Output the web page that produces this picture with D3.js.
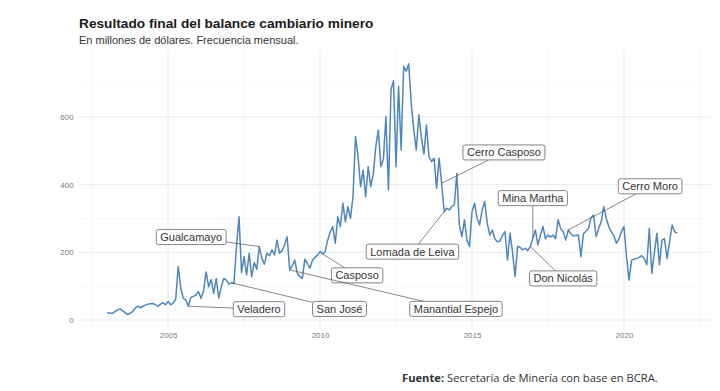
<!DOCTYPE html>
<html><head><meta charset="utf-8">
<script src="https://cdn.jsdelivr.net/npm/d3@7"></script>
<style>
body{margin:0;background:#fff;}
svg{display:block;}
</style></head>
<body>
<svg id="chart" width="720" height="391"></svg>
<script>
// ---- data ----
const startYear = 2003;          // first month: January 2003
const values = [
  // 2003
  22, 20, 20, 25, 30, 33, 28, 22, 16, 20, 25, 35,
  // 2004
  41, 36, 40, 44, 47, 48, 49, 45, 41, 47, 51, 45,
  // 2005
  55, 45, 50, 62, 158, 95, 64, 59, 41, 67, 70, 74,
  // 2006
  84, 64, 87, 142, 98, 120, 79, 123, 65, 98, 123, 118,
  // 2007
  106, 110, 108, 217, 305, 140, 187, 133, 197, 128, 170, 150,
  // 2008
  217, 182, 165, 197, 190, 207, 192, 236, 197, 205, 222, 246,
  // 2009
  148, 160, 177, 138, 128, 123, 180, 167, 153, 177, 185, 192,
  // 2010
  202, 195, 202, 236, 260, 276, 227, 305, 276, 345, 290, 335,
  // 2011
  300, 364, 542, 483, 394, 443, 364, 453, 394, 430, 512, 561,
  // 2012
  453, 475, 601, 384, 680, 707, 453, 690, 502, 749, 734, 757,
  // 2013
  640, 561, 502, 606, 540, 490, 576, 483, 468, 478, 389, 478,
  // 2014
  404, 320, 330, 325, 335, 340, 433, 280, 246, 296, 236, 217,
  // 2015
  320, 345, 300, 281, 325, 350, 286, 251, 266, 240, 231, 233,
  // 2016
  250, 261, 177, 256, 200, 128, 217, 215, 207, 212, 205, 217,
  // 2017
  241, 266, 222, 250, 276, 240, 251, 245, 251, 240, 296, 270,
  // 2018
  261, 236, 266, 255, 248, 250, 251, 187, 255, 262, 270, 303,
  // 2019
  310, 246, 270, 290, 335, 300, 276, 260, 250, 227, 240, 261,
  // 2020
  276, 187, 118, 177, 180, 182, 185, 190, 182, 163, 271, 138,
  // 2021
  200, 256, 163, 236, 240, 182, 230, 281, 261, 256
];
const xTicks = [2005, 2010, 2015, 2020];
const yTicks = [0, 200, 400, 600];

// mine annotations: name, month index of the pointed value, label centre (year, value)
const mineNames  = ["Gualcamayo", "Veladero", "San José", "Casposo", "Manantial Espejo",
                    "Lomada de Leiva", "Cerro Casposo", "Mina Martha", "Don Nicolás", "Cerro Moro"];
const mineIndex  = [60, 32, 49, 85, 72, 133, 132, 168, 167, 182];
const labelYear  = [2005.76, 2007.99, 2010.64, 2011.22, 2014.47, 2013.04, 2016.05, 2017.0, 2018.0, 2020.86];
const labelValue = [245, 32, 33, 132, 33, 202, 495, 360, 123, 395];

const title = "Resultado final del balance cambiario minero";
const subtitle = "En millones de dólares. Frecuencia mensual.";

// ---- chart ----
const svg = d3.select("#chart");
svg.append("rect").attr("width", 720).attr("height", 391).attr("fill", "#fff");

const pLeft = 78.6, pRight = 710.6, pTop = 50.5, pBottom = 328.5;
const series = values.map((v, i) => ({ t: startYear + i / 12, v }));
const x = d3.scaleLinear().domain([2002.055, 2022.85]).range([pLeft, pRight]);
const y = d3.scaleLinear().domain([-25, 796]).range([pBottom, pTop]);

const g = svg.append("g");
// minor grid
const xMinor = [2002.5, 2007.5, 2012.5, 2017.5, 2022.5];
const yMinor = [100, 300, 500, 700];
g.selectAll(".xm").data(xMinor).join("line")
  .attr("x1", d => x(d)).attr("x2", d => x(d)).attr("y1", pTop).attr("y2", pBottom)
  .attr("stroke", "#f3f3f3").attr("stroke-width", 0.6);
g.selectAll(".ym").data(yMinor).join("line")
  .attr("y1", d => y(d)).attr("y2", d => y(d)).attr("x1", pLeft).attr("x2", pRight)
  .attr("stroke", "#f3f3f3").attr("stroke-width", 0.6);
// major grid
g.selectAll(".xM").data(xTicks).join("line")
  .attr("x1", d => x(d)).attr("x2", d => x(d)).attr("y1", pTop).attr("y2", pBottom)
  .attr("stroke", "#e8e8e8").attr("stroke-width", 0.9);
g.selectAll(".yM").data(yTicks).join("line")
  .attr("y1", d => y(d)).attr("y2", d => y(d)).attr("x1", pLeft).attr("x2", pRight)
  .attr("stroke", "#e8e8e8").attr("stroke-width", 0.9);

// axes (text only)
const xAxis = svg.append("g").attr("transform", `translate(0,${pBottom})`)
  .call(d3.axisBottom(x).tickValues(xTicks).tickFormat(d3.format("d")).tickSize(0).tickPadding(4));
const yAxis = svg.append("g").attr("transform", `translate(${pLeft},0)`)
  .call(d3.axisLeft(y).tickValues(yTicks).tickSize(0).tickPadding(5));
[xAxis, yAxis].forEach(a => {
  a.select(".domain").remove();
  a.selectAll("text").attr("fill", "#7a7a7a").style("font-family", "Liberation Sans, Arial, sans-serif").style("font-size", "8px");
});

// line
svg.append("path").datum(series)
  .attr("fill", "none").attr("stroke", "#4f86bd").attr("stroke-width", 1.5)
  .attr("stroke-linejoin", "round")
  .attr("d", d3.line().x(d => x(d.t)).y(d => y(d.v)));

// labels
const lg = svg.append("g").style("font-family", "Liberation Sans, Arial, sans-serif").style("font-size", "11px");
mineNames.forEach((name, i) => {
  const p = series[mineIndex[i]];
  const px = x(p.t), py = y(p.v);
  const cx = x(labelYear[i]), cy = y(labelValue[i]);
  const grp = lg.append("g");
  const seg = grp.append("line").attr("stroke", "#555").attr("stroke-width", 0.7);
  const rect = grp.append("rect");
  const txt = grp.append("text").text(name).attr("x", cx).attr("y", cy).attr("text-anchor", "middle")
    .attr("dominant-baseline", "central").attr("fill", "#333");
  const w = txt.node().getComputedTextLength() + 8, h = 15;
  rect.attr("x", cx - w / 2).attr("y", cy - h / 2).attr("width", w).attr("height", h)
    .attr("rx", 2).attr("fill", "#fff").attr("stroke", "#666").attr("stroke-width", 0.8);
  const dx = px - cx, dy = py - cy;
  const s = Math.min(Math.abs((w / 2) / (dx || 1e-9)), Math.abs((h / 2) / (dy || 1e-9)));
  const ex = cx + dx * Math.min(s, 1), ey = cy + dy * Math.min(s, 1);
  seg.attr("x1", px).attr("y1", py).attr("x2", ex).attr("y2", ey);
});

// title, subtitle, caption
svg.append("text").attr("x", 79).attr("y", 28).text(title)
  .style("font-family", "Liberation Sans, Arial, sans-serif").style("font-weight", "bold")
  .style("font-size", "13.7px").attr("fill", "#1a1a1a");
svg.append("text").attr("x", 79).attr("y", 44).text(subtitle)
  .style("font-family", "Liberation Sans, Arial, sans-serif")
  .style("font-size", "11px").attr("fill", "#333");
const cap = svg.append("text").attr("x", 402).attr("y", 382)
  .style("font-family", "Open Sans, sans-serif").style("font-size", "11.2px").attr("fill", "#333");
cap.append("tspan").text("Fuente:").style("font-weight", "bold");
cap.append("tspan").text(" Secretaría de Minería con base en BCRA.");
</script>
</body></html>
